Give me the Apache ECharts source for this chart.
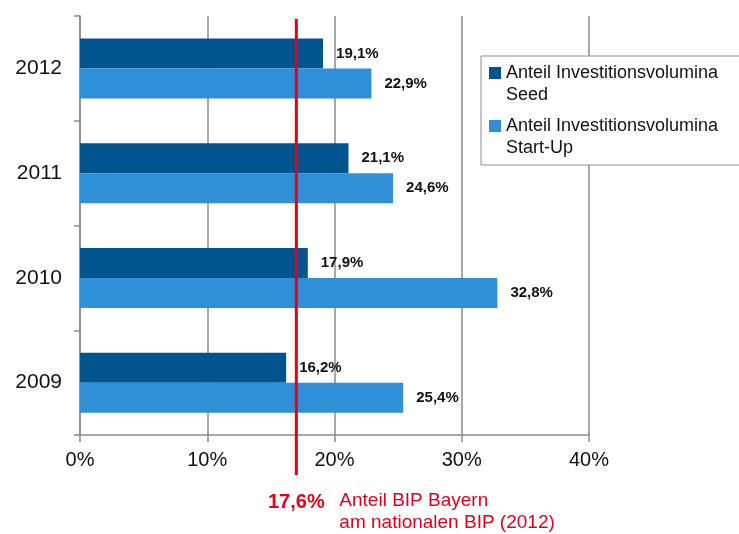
<!DOCTYPE html>
<html>
<head>
<meta charset="utf-8">
<script src="https://cdn.jsdelivr.net/npm/echarts@6/dist/echarts.min.js"></script>
<style>
  html, body { margin: 0; padding: 0; background: #fff; }
  #chart { width: 739px; height: 534px; }
</style>
</head>
<body>
<div id="chart"></div>
<script>
// Daten
const years = ['2009', '2010', '2011', '2012'];
const seedValues = [16.2, 17.9, 21.1, 19.1];
const startUpValues = [25.4, 32.8, 24.6, 22.9];
const seriesNames = ['Anteil Investitionsvolumina\nSeed', 'Anteil Investitionsvolumina\nStart-Up'];
const xTicks = [0, 10, 20, 30, 40];
// Anteil BIP Bayern (Linie so platziert wie im Bild)
const bipLinePos = 17.0;
const bipLabel = '17,6%';
const bipText = ['Anteil BIP Bayern', 'am nationalen BIP (2012)'];

const FONT = "'Liberation Sans', Arial, sans-serif";
const RED = '#e3001b';
const GREY = '#8c8c8c';

const chart = echarts.init(document.getElementById('chart'));

const fmtPct = (v) => v.toFixed(1).replace('.', ',') + '%';

const valueLabel = {
  show: true,
  position: 'right',
  distance: 13,
  color: '#111',
  fontFamily: FONT,
  fontWeight: 'bold',
  fontSize: 15,
  formatter: (p) => fmtPct(p.value)
};

chart.setOption({
  animation: false,
  backgroundColor: '#fff',
  textStyle: { fontFamily: FONT },
  grid: { left: 80, right: 150, top: 16, bottom: 99 },
  legend: {
    orient: 'vertical',
    left: 481,
    top: 56,
    padding: [6, 40, 6, 8],
    itemGap: 9,
    itemWidth: 12,
    itemHeight: 44,
    icon: 'path://M0,0L0,0 M0,5h12v12h-12z M12,44L12,44',
    selectedMode: false,
    borderColor: GREY,
    borderWidth: 1,
    backgroundColor: '#fff',
    textStyle: { fontFamily: FONT, fontSize: 18, lineHeight: 22, color: '#111' },
    data: seriesNames
  },
  xAxis: {
    type: 'value',
    min: xTicks[0],
    max: xTicks[xTicks.length - 1],
    interval: 10,
    axisLine: { show: true, lineStyle: { color: GREY, width: 1.5 } },
    axisTick: { show: true, length: 7, lineStyle: { color: GREY, width: 1.5 } },
    axisLabel: { formatter: '{value}%', fontSize: 20, color: '#111', margin: 15, fontFamily: FONT },
    splitLine: { show: true, lineStyle: { color: GREY, width: 1.5 } }
  },
  yAxis: {
    type: 'category',
    data: years,
    axisLine: { show: true, lineStyle: { color: GREY, width: 1.5 } },
    axisTick: { show: true, length: 6, lineStyle: { color: GREY, width: 1.5 } },
    axisLabel: { fontSize: 21, color: '#111', margin: 18, fontFamily: FONT },
    splitLine: { show: false }
  },
  series: [
    {
      name: seriesNames[0],
      type: 'bar',
      data: seedValues,
      barWidth: 30,
      barGap: '0%',
      itemStyle: { color: '#00558f' },
      label: valueLabel
    },
    {
      name: seriesNames[1],
      type: 'bar',
      data: startUpValues,
      barWidth: 30,
      barGap: '0%',
      itemStyle: { color: '#2f90d8' },
      label: valueLabel
    }
  ]
});

// rote Linie + Beschriftung, x-Position über die Achse berechnet
const lineX = chart.convertToPixel({ xAxisIndex: 0 }, bipLinePos);
chart.setOption({
  graphic: [
    {
      type: 'line',
      z: 100,
      shape: { x1: lineX, y1: 19, x2: lineX, y2: 475 },
      style: { stroke: RED, lineWidth: 3 }
    },
    {
      type: 'text',
      z: 100,
      x: lineX,
      y: 502,
      style: {
        text: bipLabel, fill: RED, font: 'bold 20px ' + FONT,
        textAlign: 'center', textVerticalAlign: 'middle'
      }
    },
    {
      type: 'text',
      z: 100,
      x: lineX + 43,
      y: 490,
      style: {
        text: bipText.join('\n'), fill: RED, font: '19px ' + FONT,
        lineHeight: 22, textAlign: 'left', textVerticalAlign: 'top'
      }
    }
  ]
});
</script>
</body>
</html>
